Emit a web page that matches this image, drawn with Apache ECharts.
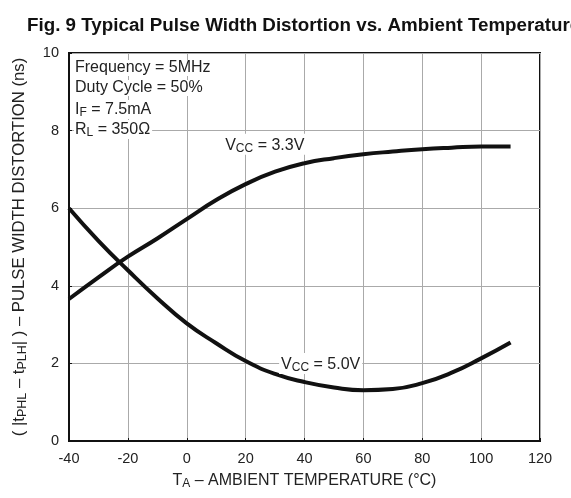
<!DOCTYPE html>
<html>
<head>
<meta charset="utf-8">
<script src="https://cdn.jsdelivr.net/npm/echarts@6/dist/echarts.min.js"></script>
<style>
  html, body { margin: 0; padding: 0; background: #fff; }
  #chart { width: 571px; height: 498px; }
</style>
</head>
<body>
<div id="chart"></div>
<script>
// Pulse width distortion vs ambient temperature

const temps = [-40, -30, -20, -10, 0, 10, 20, 30, 40, 50, 60, 70, 80, 90, 100, 110];
const vcc33 = [3.66, 4.22, 4.75, 5.22, 5.72, 6.21, 6.62, 6.94, 7.16, 7.29, 7.39, 7.46, 7.52, 7.56, 7.59, 7.59];
const vcc50 = [6.0, 5.16, 4.4, 3.68, 3.03, 2.52, 2.06, 1.73, 1.52, 1.38, 1.31, 1.34, 1.49, 1.76, 2.13, 2.54];
const xTicks = [-40, -20, 0, 20, 40, 60, 80, 100, 120];
const yTicks = [0, 2, 4, 6, 8, 10];
const conditions = ['Frequency = 5MHz', 'Duty Cycle = 50%', 'I{s|F} = 7.5mA', 'R{s|L} = 350Ω'];

const chartDom = document.getElementById('chart');
let chart = echarts.init(chartDom);

const fontFam = 'Liberation Sans, Arial, sans-serif';
const subStyle = { fontSize: 12, fontFamily: fontFam, color: '#222', verticalAlign: 'bottom', padding: [7, 0, 0, 0] };

function pairs(ys) {
    return temps.map(function (t, i) { return [t, ys[i]]; });
}

function curveLabel(text, coord) {
    return {
        symbol: 'rect',
        symbolSize: 0,
        data: [{ coord: coord }],
        label: {
            show: true,
            position: 'inside',
            formatter: text,
            fontSize: 16,
            fontFamily: fontFam,
            color: '#222',
            backgroundColor: '#fff',
            padding: [2, 2, 0, 2],
            rich: { s: subStyle }
        }
    };
}

let option = {
    backgroundColor: '#fff',
    animation: false,
    title: {
        text: 'Fig. 9 Typical Pulse Width Distortion vs. Ambient Temperature',
        left: 22,
        top: 11,
        textStyle: {
            fontSize: 18.8,
            fontWeight: 'bold',
            fontFamily: fontFam,
            color: '#111'
        }
    },
    grid: {
        left: 69,
        right: 31,
        top: 53,
        bottom: 57,
        show: true,
        borderColor: '#111',
        borderWidth: 2
    },
    xAxis: {
        type: 'value',
        min: xTicks[0],
        max: xTicks[xTicks.length - 1],
        interval: 20,
        name: 'T{s|A} – AMBIENT TEMPERATURE (°C)',
        nameLocation: 'middle',
        nameGap: 30,
        nameTextStyle: {
            fontSize: 16,
            fontFamily: fontFam,
            color: '#222',
            rich: { s: subStyle }
        },
        axisLine: { onZero: false, lineStyle: { color: '#111', width: 2 } },
        axisTick: { inside: true, length: 3, lineStyle: { color: '#111' } },
        axisLabel: { fontSize: 14.5, fontFamily: fontFam, color: '#222', margin: 10 },
        splitLine: { lineStyle: { color: '#aaa', width: 1 } }
    },
    yAxis: {
        type: 'value',
        min: yTicks[0],
        max: yTicks[yTicks.length - 1],
        interval: 2,
        name: '( |t{s|PHL} – t{s|PLH}| ) – PULSE WIDTH DISTORTION (ns)',
        nameLocation: 'middle',
        nameGap: 40,
        nameTextStyle: {
            fontSize: 16.7,
            fontFamily: fontFam,
            color: '#222',
            rich: { s: { fontSize: 12.5, fontFamily: fontFam, color: '#222', verticalAlign: 'bottom', padding: [7, 0, 0, 0] } }
        },
        axisLine: { onZero: false, lineStyle: { color: '#111', width: 2 } },
        axisTick: { inside: true, length: 3, lineStyle: { color: '#111' } },
        axisLabel: { fontSize: 14.5, fontFamily: fontFam, color: '#222', margin: 10 },
        splitLine: { lineStyle: { color: '#aaa', width: 1 } }
    },
    graphic: conditions.map(function (txt, i) {
        return {
            type: 'text',
            left: 74,
            top: 60 + i * 20,
            z: 10,
            style: {
                text: txt,
                fontSize: 16,
                fontFamily: fontFam,
                fill: '#222',
                backgroundColor: '#fff',
                padding: [0, 2, 0, 1],
                rich: { s: { fontSize: 12, fontFamily: fontFam, fill: '#222', verticalAlign: 'bottom', padding: [7, 0, 0, 0] } }
            }
        };
    }),
    series: [
        {
            name: 'VCC = 3.3V',
            type: 'line',
            smooth: true,
            showSymbol: false,
            data: pairs(vcc33),
            lineStyle: { color: '#111', width: 4 },
            markPoint: curveLabel('V{s|CC} = 3.3V', [26.5, 7.65])
        },
        {
            name: 'VCC = 5.0V',
            type: 'line',
            smooth: true,
            showSymbol: false,
            data: pairs(vcc50),
            lineStyle: { color: '#111', width: 4 },
            markPoint: curveLabel('V{s|CC} = 5.0V', [45.5, 2.0])
        }
    ]
};

option && chart.setOption(option);
</script>
</body>
</html>
